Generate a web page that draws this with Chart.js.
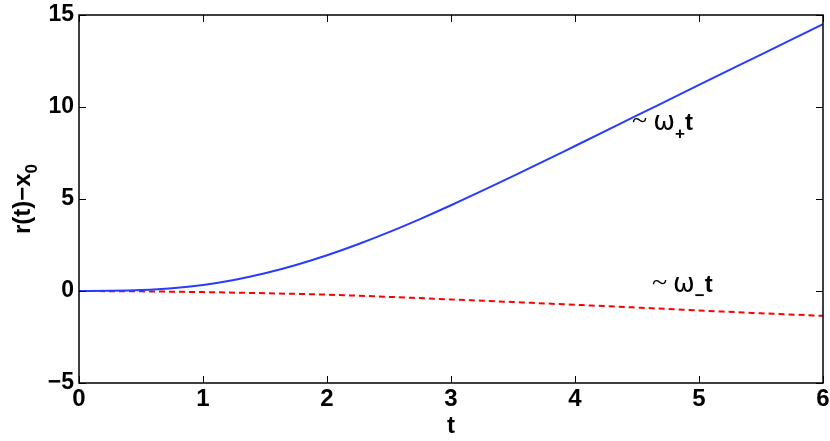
<!DOCTYPE html>
<html><head><meta charset="utf-8">
<script src="https://cdn.jsdelivr.net/npm/chart.js@4/dist/chart.umd.min.js"></script>
<style>html,body{margin:0;padding:0;background:#fff}#wrap{width:830px;height:441px}</style>
</head><body><div id="wrap"><canvas id="c" width="830" height="441"></canvas></div>
<script>
// Data
const tBlue = [0,0.25,0.5,0.75,1,1.25,1.5,1.75,2,2.25,2.5,2.75,3,3.5,4,4.5,5,5.5,6];
const omegaPlus = [0,0.01,0.05,0.15,0.33,0.6,0.96,1.41,1.94,2.54,3.2,3.91,4.66,6.24,7.88,9.54,11.2,12.85,14.5];
const tRed = [0,0.5,1,1.5,2,2.5,3,3.5,4,4.5,5,5.5,6];
const omegaMinus = [0,-0.02,-0.06,-0.12,-0.2,-0.32,-0.46,-0.6,-0.75,-0.9,-1.06,-1.21,-1.35];
const xTicks = [0,1,2,3,4,5,6];
const yTicks = [-5,0,5,10,15];
const xTitle = 't';
const yTitleMain = 'r(t)\u2212x';
const yTitleSub = '0';

const boxPlugin = {
  id: 'boxPlugin',
  afterDraw(chart) {
    const ctx = chart.ctx, ca = chart.chartArea;
    const xs = chart.scales.x, ys = chart.scales.y;
    ctx.save();
    ctx.strokeStyle = '#000';
    ctx.lineWidth = 1.5;
    ctx.strokeRect(ca.left, ca.top, ca.right - ca.left, ca.bottom - ca.top);
    ctx.lineWidth = 1;
    const L = 7;
    ctx.beginPath();
    xTicks.forEach(v => {
      const p = Math.round(xs.getPixelForValue(v)) + 0.5;
      ctx.moveTo(p, ca.bottom); ctx.lineTo(p, ca.bottom - L);
      ctx.moveTo(p, ca.top); ctx.lineTo(p, ca.top + L);
    });
    yTicks.forEach(v => {
      const p = Math.round(ys.getPixelForValue(v)) + 0.5;
      ctx.moveTo(ca.left, p); ctx.lineTo(ca.left + L, p);
      ctx.moveTo(ca.right, p); ctx.lineTo(ca.right - L, p);
    });
    ctx.stroke();

    // y axis title with subscript
    ctx.fillStyle = '#000';
    ctx.save();
    ctx.translate(30, (ca.top + ca.bottom) / 2);
    ctx.rotate(-Math.PI / 2);
    ctx.font = 'bold 24px "Liberation Sans", Arial, sans-serif';
    const w1 = ctx.measureText(yTitleMain).width;
    ctx.font = 'bold 17px "Liberation Sans", Arial, sans-serif';
    const w2 = ctx.measureText(yTitleSub).width;
    const start = -(w1 + w2) / 2;
    ctx.textBaseline = 'alphabetic';
    ctx.font = 'bold 24px "Liberation Sans", Arial, sans-serif';
    ctx.fillText(yTitleMain, start, 0);
    ctx.font = 'bold 17px "Liberation Sans", Arial, sans-serif';
    ctx.fillText(yTitleSub, start + w1, 7);
    ctx.restore();

    // annotations
    function annot(tx, ty, sub) {
      let x = xs.getPixelForValue(tx), y = ys.getPixelForValue(ty);
      ctx.textBaseline = 'alphabetic';
      ctx.font = '28px "Liberation Serif", serif';
      ctx.fillText('~', x, y - 1);
      x += ctx.measureText('~').width + 6;
      ctx.font = '26px "DejaVu Sans", sans-serif';
      ctx.fillText('\u03c9', x, y);
      x += ctx.measureText('\u03c9').width;
      ctx.font = 'bold 17px "Liberation Sans", Arial, sans-serif';
      ctx.fillText(sub, x, y + 9);
      x += ctx.measureText(sub).width;
      ctx.font = 'bold 24px "Liberation Sans", Arial, sans-serif';
      ctx.fillText('t', x, y);
    }
    annot(4.46, 8.75, '+');
    annot(4.62, -0.05, '\u2212');
    ctx.restore();
  }
};

new Chart(document.getElementById('c'), {
  type: 'line',
  data: {
    datasets: [
      { data: tBlue.map((t, i) => ({x: t, y: omegaPlus[i]})), borderColor: 'rgb(40,60,255)', borderWidth: 2, pointRadius: 0, cubicInterpolationMode: 'monotone', fill: false },
      { data: tRed.map((t, i) => ({x: t, y: omegaMinus[i]})), borderColor: 'rgb(255,0,0)', borderWidth: 2, borderDash: [6, 4], pointRadius: 0, cubicInterpolationMode: 'monotone', fill: false }
    ]
  },
  options: {
    responsive: false,
    animation: false,
    devicePixelRatio: 1,
    layout: { padding: { left: 0, right: 7, top: 15, bottom: 0 } },
    plugins: { legend: { display: false }, tooltip: { enabled: false } },
    scales: {
      x: {
        type: 'linear', min: 0, max: 6,
        afterFit(s) { s.height = 58; s.paddingLeft = 0; s.paddingRight = 0; },
        afterBuildTicks(s) { s.ticks = xTicks.map(v => ({value: v})); },
        grid: { display: false, drawTicks: false },
        border: { display: false },
        ticks: { color: '#000', padding: 2, maxRotation: 0, font: { family: '"Liberation Sans", Arial, sans-serif', weight: 'bold', size: 24 } },
        title: { display: true, text: xTitle, color: '#000', padding: { top: -8, bottom: 0 }, font: { family: '"Liberation Sans", Arial, sans-serif', weight: 'bold', size: 24 } }
      },
      y: {
        type: 'linear', min: -5, max: 15,
        afterFit(s) { s.width = 79; s.paddingTop = 0; s.paddingBottom = 0; },
        afterBuildTicks(s) { s.ticks = yTicks.map(v => ({value: v})); },
        grid: { display: false, drawTicks: false },
        border: { display: false },
        ticks: { color: '#000', padding: 5, font: { family: '"Liberation Sans", Arial, sans-serif', weight: 'bold', size: 23 }, callback: v => (v < 0 ? '\u2212' + Math.abs(v) : '' + v) }
      }
    }
  },
  plugins: [boxPlugin]
});
</script>
</body></html>
